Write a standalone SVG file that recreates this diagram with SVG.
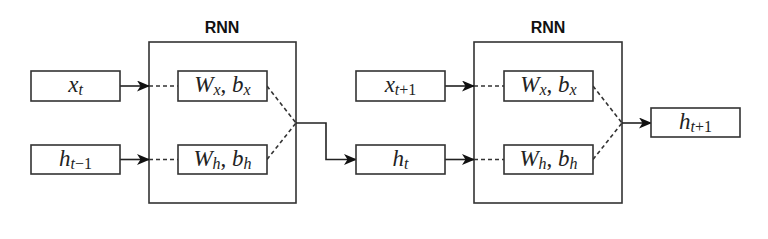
<svg xmlns="http://www.w3.org/2000/svg" width="768" height="239" viewBox="0 0 768 239">
<style>
.box{fill:#fff;stroke:#333;stroke-width:1.6}
.frame{fill:none;stroke:#333;stroke-width:1.6}
.wire{fill:none;stroke:#222;stroke-width:1.6}
.dash{fill:none;stroke:#333;stroke-width:1.6;stroke-dasharray:4 3}
.m{font-family:"Liberation Serif","DejaVu Serif",serif;font-size:23px;fill:#222;text-anchor:middle}
.i{font-style:italic}
.s{font-size:16px}
.lbl{font-family:"Liberation Sans",Arial,sans-serif;font-size:16px;font-weight:bold;fill:#111;text-anchor:middle}
</style>
<defs>
<marker id="arr" viewBox="0 0 13 11" refX="12" refY="5.5" markerWidth="13" markerHeight="11" markerUnits="userSpaceOnUse" orient="auto">
<path d="M0,0 L13,5.5 L0,11 L3.5,5.5 Z" fill="#111"/>
</marker>
</defs>
<rect width="768" height="239" fill="#fff"/>
<g id="rnn1">
<rect class="frame" x="149" y="42" width="147" height="161"/>
<text class="lbl" x="222" y="33">RNN</text>
</g>
<g id="rnn2">
<rect class="frame" x="474" y="42" width="148" height="161"/>
<text class="lbl" x="548" y="33">RNN</text>
</g>
<g id="connectors">
<line class="wire" x1="120" y1="86" x2="149" y2="86" marker-end="url(#arr)"/>
<line class="wire" x1="120" y1="159.5" x2="149" y2="159.5" marker-end="url(#arr)"/>
<line class="dash" x1="149" y1="86" x2="178" y2="86"/>
<line class="dash" x1="149" y1="159.5" x2="178" y2="159.5"/>
<line class="dash" x1="267" y1="86" x2="296" y2="123"/>
<line class="dash" x1="267" y1="159.5" x2="296" y2="123"/>
<polyline class="wire" points="296,123 326,123 326,159.5 356,159.5" marker-end="url(#arr)"/>
<line class="wire" x1="445" y1="86" x2="474" y2="86" marker-end="url(#arr)"/>
<line class="wire" x1="445" y1="159.5" x2="474" y2="159.5" marker-end="url(#arr)"/>
<line class="dash" x1="474" y1="86" x2="504" y2="86"/>
<line class="dash" x1="474" y1="159.5" x2="504" y2="159.5"/>
<line class="dash" x1="593" y1="86" x2="622" y2="123"/>
<line class="dash" x1="593" y1="159.5" x2="622" y2="123"/>
<line class="wire" x1="622" y1="123" x2="651" y2="123" marker-end="url(#arr)"/>
</g>
<g id="xt">
<rect class="box" x="31" y="71" width="89" height="30"/>
<text class="m" x="75.5" y="92"><tspan class="i">x</tspan><tspan class="i s" dy="3">t</tspan></text>
</g>
<g id="htm1">
<rect class="box" x="31" y="145" width="89" height="29"/>
<text class="m" x="75.5" y="166"><tspan class="i">h</tspan><tspan class="s" dy="3"><tspan class="i">t</tspan>−1</tspan></text>
</g>
<g id="wx1">
<rect class="box" x="178" y="71" width="89" height="30"/>
<text class="m" x="222.5" y="92"><tspan class="i">W</tspan><tspan class="i s" dy="3">x</tspan><tspan dy="-3">, </tspan><tspan class="i">b</tspan><tspan class="i s" dy="3">x</tspan></text>
</g>
<g id="wh1">
<rect class="box" x="178" y="145" width="89" height="29"/>
<text class="m" x="222.5" y="166"><tspan class="i">W</tspan><tspan class="i s" dy="3">h</tspan><tspan dy="-3">, </tspan><tspan class="i">b</tspan><tspan class="i s" dy="3">h</tspan></text>
</g>
<g id="xt1">
<rect class="box" x="356" y="71" width="89" height="30"/>
<text class="m" x="400.5" y="92"><tspan class="i">x</tspan><tspan class="s" dy="3"><tspan class="i">t</tspan>+1</tspan></text>
</g>
<g id="ht">
<rect class="box" x="356" y="145" width="89" height="29"/>
<text class="m" x="400.5" y="166"><tspan class="i">h</tspan><tspan class="i s" dy="3">t</tspan></text>
</g>
<g id="wx2">
<rect class="box" x="504" y="71" width="89" height="30"/>
<text class="m" x="548.5" y="92"><tspan class="i">W</tspan><tspan class="i s" dy="3">x</tspan><tspan dy="-3">, </tspan><tspan class="i">b</tspan><tspan class="i s" dy="3">x</tspan></text>
</g>
<g id="wh2">
<rect class="box" x="504" y="145" width="89" height="29"/>
<text class="m" x="548.5" y="166"><tspan class="i">W</tspan><tspan class="i s" dy="3">h</tspan><tspan dy="-3">, </tspan><tspan class="i">b</tspan><tspan class="i s" dy="3">h</tspan></text>
</g>
<g id="ht1">
<rect class="box" x="651" y="108" width="89" height="29"/>
<text class="m" x="695.5" y="129"><tspan class="i">h</tspan><tspan class="s" dy="3"><tspan class="i">t</tspan>+1</tspan></text>
</g>
</svg>
